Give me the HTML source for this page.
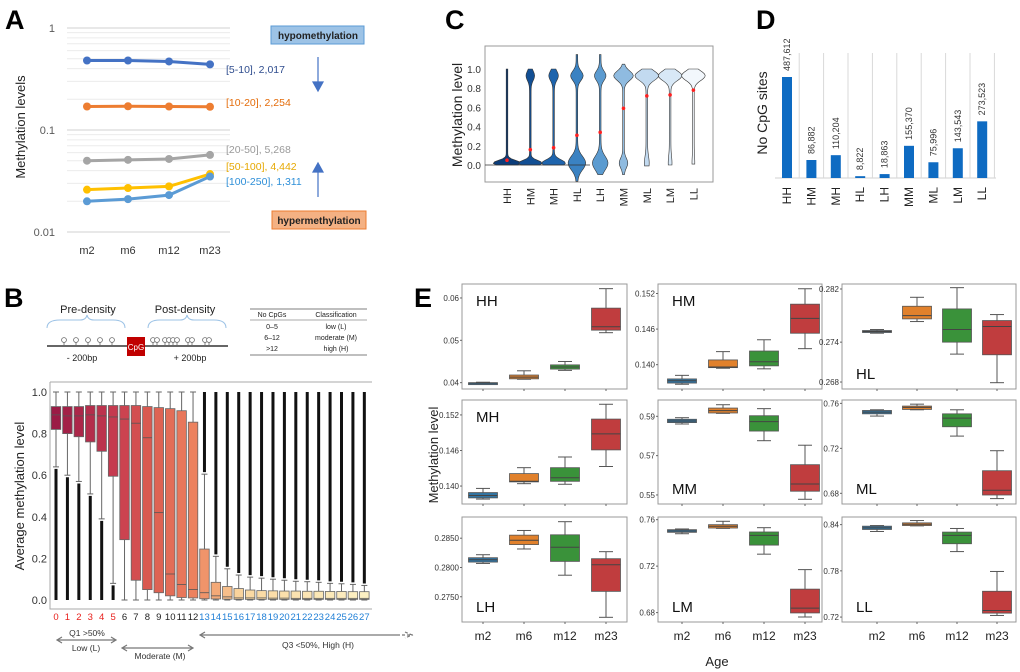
<!DOCTYPE html>
<html><head><meta charset="utf-8">
<style>
html,body{margin:0;padding:0;background:#fff;}
svg{display:block;font-family:"Liberation Sans",Arial,sans-serif;}
</style></head>
<body>
<svg id="fig" width="1020" height="672" viewBox="0 0 1020 672" xmlns="http://www.w3.org/2000/svg">
<!-- Panel letters -->
<text x="5" y="29" font-size="27" font-weight="bold">A</text>
<text x="445" y="29" font-size="27" font-weight="bold">C</text>
<text x="756" y="29" font-size="27" font-weight="bold">D</text>
<text x="4" y="307" font-size="27" font-weight="bold">B</text>
<text x="414" y="307" font-size="27" font-weight="bold">E</text>

<g id="panelA"></g>
<g id="panelC"></g>
<g id="panelD"></g>
<g id="panelB"></g>
<g id="panelE"></g>

<!-- B diagram -->
<g>
  <text x="88" y="313" font-size="11" text-anchor="middle" fill="#222">Pre-density</text>
  <text x="185" y="313" font-size="11" text-anchor="middle" fill="#222">Post-density</text>
  <path d="M47,328 Q47,320 60,320 L80,320 Q86,320 87,315 Q88,320 94,320 L113,320 Q125,320 125,328" fill="none" stroke="#9dc3e6" stroke-width="1"/>
  <path d="M148,328 Q148,320 160,320 L180,320 Q186,320 187,315 Q188,320 194,320 L214,320 Q226,320 226,328" fill="none" stroke="#9dc3e6" stroke-width="1"/>
  <line x1="47" y1="346" x2="228" y2="346" stroke="#333" stroke-width="1.5"/>
  <g id="lolli" stroke="#666" fill="#fff" stroke-width="0.8"></g>
  <rect x="127" y="337" width="18" height="19" fill="#c00000"/>
  <text x="136" y="350" font-size="8" fill="#fff" text-anchor="middle">CpG</text>
  <text x="82" y="361" font-size="9" text-anchor="middle" fill="#222">- 200bp</text>
  <text x="190" y="361" font-size="9" text-anchor="middle" fill="#222">+ 200bp</text>
  <g font-size="7" fill="#222" text-anchor="middle">
    <line x1="250" y1="309" x2="367" y2="309" stroke="#555" stroke-width="0.8"/>
    <line x1="250" y1="320" x2="367" y2="320" stroke="#555" stroke-width="0.6"/>
    <line x1="250" y1="355" x2="367" y2="355" stroke="#555" stroke-width="0.8"/>
    <text x="272" y="317">No CpGs</text><text x="336" y="317">Classification</text>
    <text x="272" y="329">0–5</text><text x="336" y="329">low (L)</text>
    <text x="272" y="340">6–12</text><text x="336" y="340">moderate (M)</text>
    <text x="272" y="351">&gt;12</text><text x="336" y="351">high (H)</text>
  </g>
</g>
</svg>
<script>
// ===== Panel A data =====
const aCategories = ["m2","m6","m12","m23"];
const aSeriesNames = ["[5-10], 2,017","[10-20], 2,254","[20-50], 5,268","[50-100], 4,442","[100-250], 1,311"];
const aSeries5to10 = [0.48,0.48,0.47,0.44];
const aSeries10to20 = [0.17,0.171,0.17,0.169];
const aSeries20to50 = [0.050,0.051,0.052,0.057];
const aSeries50to100 = [0.026,0.027,0.028,0.037];
const aSeries100to250 = [0.020,0.021,0.023,0.035];
const aTicks = [1,0.1,0.01];
const aTickLabels = ["1","0.1","0.01"];

// ===== Panel C data =====
const cCategories = ["HH","HM","MH","HL","LH","MM","ML","LM","LL"];
const cMeans = [0.05,0.16,0.18,0.31,0.34,0.59,0.72,0.73,0.78];
const cTicks = [0,0.2,0.4,0.6,0.8,1.0];

// ===== Panel D data =====
const dCategories = ["HH","HM","MH","HL","LH","MM","ML","LM","LL"];
const dValues = [487612,86882,110204,8822,18863,155370,75996,143543,273523];
const dLabels = ["487,612","86,882","110,204","8,822","18,863","155,370","75,996","143,543","273,523"];

// ===== Panel B data =====
const bCategories = ["0","1","2","3","4","5","6","7","8","9","10","11","12","13","14","15","16","17","18","19","20","21","22","23","24","25","26","27"];
const bQ1 =  [0.82,0.80,0.785,0.76,0.715,0.595,0.29,0.095,0.05,0.035,0.02,0.012,0.01,0.006,0.005,0.004,0.003,0.003,0.003,0.003,0.003,0.003,0.003,0.003,0.003,0.003,0.003,0.003];
const bMed = [0.89,0.885,0.885,0.89,0.885,0.88,0.87,0.85,0.78,0.42,0.125,0.075,0.05,0.035,0.02,0.015,0.01,0.01,0.01,0.009,0.009,0.008,0.008,0.008,0.008,0.008,0.008,0.008];
const bQ3 =  [0.93,0.93,0.93,0.935,0.935,0.935,0.935,0.935,0.93,0.925,0.92,0.91,0.855,0.245,0.085,0.065,0.055,0.048,0.045,0.044,0.043,0.043,0.042,0.042,0.041,0.041,0.040,0.040];
const bWhiskLo = [0.64,0.60,0.57,0.51,0.39,0.08,0,0,0,0,0,0,0,0,0,0,0,0,0,0,0,0,0,0,0,0,0,0];
const bWhiskHi = [1,1,1,1,1,1,1,1,1,1,1,1,1,0.605,0.21,0.15,0.12,0.11,0.105,0.10,0.095,0.09,0.088,0.085,0.08,0.078,0.075,0.07];
const bTicks = [0,0.2,0.4,0.6,0.8,1.0];

// ===== Panel E data =====
const eTitles = ["HH","HM","HL","MH","MM","ML","LH","LM","LL"];
const eAges = ["m2","m6","m12","m23"];
const eDomains = [[0.0385,0.0633],[0.1359,0.1536],[0.26695,0.28275],[0.13697,0.15452],[0.5454,0.5983],[0.6705,0.763],[0.27069,0.28862],[0.6719,0.7623],[0.7136,0.8499]];
const eTickVals = [[0.04,0.05,0.06],[0.140,0.146,0.152],[0.268,0.274,0.282],[0.140,0.146,0.152],[0.55,0.57,0.59],[0.68,0.72,0.76],[0.275,0.28,0.285],[0.68,0.72,0.76],[0.72,0.78,0.84]];
const eTickLabels = [["0.04","0.05","0.06"],["0.140","0.146","0.152"],["0.268","0.274","0.282"],["0.140","0.146","0.152"],["0.55","0.57","0.59"],["0.68","0.72","0.76"],["0.2750","0.2800","0.2850"],["0.68","0.72","0.76"],["0.72","0.78","0.84"]];
// each box: [whisker low, q1, median, q3, whisker high]
const eHH = [[0.0398,0.0399,0.0399,0.0400,0.0401],[0.0408,0.0409,0.0413,0.0418,0.0428],[0.0429,0.0432,0.0437,0.0442,0.0450],[0.0518,0.0524,0.0532,0.0576,0.0622]];
const eHM = [[0.1367,0.1369,0.1373,0.1376,0.1382],[0.1394,0.1395,0.1396,0.1408,0.1422],[0.1393,0.1398,0.1405,0.1423,0.1442],[0.1427,0.1453,0.1478,0.1502,0.1528]];
const eHL = [[0.27535,0.27545,0.2756,0.27575,0.2759],[0.2771,0.2775,0.278,0.2794,0.28075],[0.2722,0.274,0.2759,0.279,0.2822],[0.2679,0.2721,0.27635,0.27725,0.27815]];
const eMH = [[0.1378,0.1380,0.1384,0.1389,0.1396],[0.1404,0.1407,0.1408,0.1421,0.1431],[0.1403,0.1408,0.1414,0.1431,0.1449],[0.1433,0.1461,0.1488,0.1513,0.1538]];
const eMM = [[0.5861,0.5868,0.5876,0.5885,0.5893],[0.5915,0.5917,0.5929,0.5942,0.5959],[0.5776,0.5825,0.5873,0.5903,0.5939],[0.5478,0.5519,0.5556,0.5654,0.5753]];
const eML = [[0.7487,0.7507,0.7522,0.7537,0.7543],[0.7543,0.7546,0.7564,0.7576,0.7593],[0.7309,0.7392,0.7469,0.7507,0.7543],[0.6753,0.6785,0.6827,0.7001,0.7179]];
const eLH = [[0.28069,0.28092,0.28132,0.28167,0.28218],[0.28316,0.28391,0.28466,0.28552,0.28632],[0.27868,0.28104,0.28345,0.28558,0.28782],[0.27149,0.27592,0.28046,0.2815,0.2827]];
const eLM = [[0.7479,0.7491,0.7502,0.7514,0.7520],[0.7525,0.7528,0.7543,0.7557,0.7586],[0.7303,0.7381,0.7465,0.7494,0.7531],[0.6762,0.6797,0.6838,0.7002,0.717]];
const eLL = [[0.8311,0.8337,0.8358,0.838,0.8388],[0.8384,0.8388,0.8405,0.8423,0.8453],[0.805,0.8152,0.826,0.8303,0.835],[0.7221,0.7251,0.7286,0.7535,0.7792]];

const NS="http://www.w3.org/2000/svg";
function mk(parent,tag,attrs,text){const e=document.createElementNS(NS,tag);for(const k in attrs)e.setAttribute(k,attrs[k]);if(text!==undefined)e.textContent=text;parent.appendChild(e);return e;}

// ===== Panel A =====
(function(){
  const g=document.getElementById('panelA');
  const yA=v=>28+(-Math.log10(v))*102;
  const xA=i=>87+i*41;
  // minor grid
  [1,0.1].forEach(dec=>{for(let m=2;m<=9;m++){const v=dec/10*m;const l=mk(g,'line',{x1:67,x2:230,y1:yA(v),y2:yA(v),stroke:'#ececec','stroke-width':1});
    
    }});
  aTicks.forEach((t,i)=>{const l=mk(g,'line',{x1:67,x2:230,y1:yA(t),y2:yA(t),stroke:'#d9d9d9','stroke-width':1.2});
    
    
    const tx=mk(g,'text',{x:55,y:yA(t)+4,'font-size':11,'text-anchor':'end',fill:'#595959'},aTickLabels[i]);
    
    });
  aCategories.forEach((c,i)=>{const tx=mk(g,'text',{x:xA(i),y:254,'font-size':11,'text-anchor':'middle',fill:'#333'},c);
    
    });
  const yt=mk(g,'text',{x:0,y:0,'font-size':13,'text-anchor':'middle',fill:'#222',transform:'translate(25,127) rotate(-90)'},'Methylation levels');
  
  
  const series=[aSeries5to10,aSeries10to20,aSeries20to50,aSeries50to100,aSeries100to250];
  const cols=['#4472c4','#ed7d31','#a5a5a5','#ffc000','#5b9bd5'];
  const labCols=['#2f4d8e','#e46c0a','#9a9a9a','#e6a800','#2e8fd8'];
  const labY=[73,106,153,170,185];
  series.forEach((s,k)=>{
    const p=mk(g,'polyline',{points:s.map((v,i)=>xA(i)+','+yA(v)).join(' '),fill:'none',stroke:cols[k],'stroke-width':3});
    
    
    s.forEach((v,i)=>{const c=mk(g,'circle',{cx:xA(i),cy:yA(v),r:4,fill:cols[k]});
      
      });
    const t=mk(g,'text',{x:226,y:labY[k],'font-size':10.5,fill:labCols[k]},aSeriesNames[k]);
    
    
  });
  const hb=mk(g,'rect',{x:271,y:26,width:93,height:18,fill:'#9dc3e6',stroke:'#5b9bd5'});
  
  
  const ht=mk(g,'text',{x:318,y:39,'font-size':10,'font-weight':'bold','text-anchor':'middle',fill:'#222'},'hypomethylation');
  
  
  const rb=mk(g,'rect',{x:272,y:211,width:94,height:18,fill:'#f4b183',stroke:'#ed7d31'});
  
  
  const rt=mk(g,'text',{x:319,y:224,'font-size':10,'font-weight':'bold','text-anchor':'middle',fill:'#222'},'hypermethylation');
  
  
  const a1=mk(g,'path',{d:'M318,57 L318,82 M313,82 L323,82 L318,91 Z',stroke:'#4472c4','stroke-width':1.2,fill:'#4472c4'});
  
  
  const a2=mk(g,'path',{d:'M318,197 L318,172 M313,172 L323,172 L318,163 Z',stroke:'#4472c4','stroke-width':1.2,fill:'#4472c4'});
  
  
})();

// ===== Panel C =====
(function(){
  const g=document.getElementById('panelC');
  const yC=v=>165-v*96;
  const xC=i=>507+i*23.3;
  const fr=mk(g,'rect',{x:485,y:46,width:228,height:136,fill:'none',stroke:'#999'});
  
  
  cTicks.forEach(t=>{const tx=mk(g,'text',{x:481,y:yC(t)+4,'font-size':10,'text-anchor':'end',fill:'#333'},t.toFixed(1));
    
    });
  const yt=mk(g,'text',{x:0,y:0,'font-size':14,'text-anchor':'middle',fill:'#222',transform:'translate(462,115) rotate(-90)'},'Methylation level');
  
  
  const fills=['#0b3d7a','#124f94','#1e64ad','#3a82c2','#5b9bd0','#8fbbe0','#c2daf0','#d8e8f6','#f2f7fc'];
  const low=[13,11,11,8,7,3.5,1.6,1.1,0.6], high=[0,3.5,4,5.5,5,9,11,11,11];
  const sLow=[0.04,0.04,0.05,0.1,0.1,0.07,0.1,0.1,0.1], vmin=[0,0,0,-0.17,-0.1,-0.1,-0.01,0,0.01], vmax=[1,1,1,1.15,1.15,1.05,1.0,1.0,1.0];
  cCategories.forEach((c,i)=>{
    const w=v=>low[i]*Math.exp(-Math.pow((v-0.02)/sLow[i],2))+high[i]*Math.exp(-Math.pow((v-0.93)/0.07,2))+0.8;
    let L=[],R=[];
    for(let k=0;k<=60;k++){const v=vmin[i]+(vmax[i]-vmin[i])*k/60;const ww=w(v);R.push((xC(i)+ww)+','+yC(v));L.unshift((xC(i)-ww)+','+yC(v));}
    const p=mk(g,'polygon',{points:R.concat(L).join(' '),fill:fills[i],stroke:'#333','stroke-width':0.6});
    
    
    const m=mk(g,'circle',{cx:xC(i),cy:yC(cMeans[i]),r:1.8,fill:'#ff2020'});
    
    
    const t=mk(g,'text',{x:0,y:0,'font-size':11,'text-anchor':'end',fill:'#222',transform:'translate('+(xC(i)+4)+',188) rotate(-90)'},c);
    
    
  });
  // HH-MH flat base lines
  const bl=mk(g,'line',{x1:485,x2:590,y1:yC(0),y2:yC(0),stroke:'#333','stroke-width':0.8});
  
  
})();

// ===== Panel D =====
(function(){
  const g=document.getElementById('panelD');
  const xD=i=>787+i*24.4;
  const yD=v=>178-v*(101/487612);
  for(let i=0;i<9;i++){const l=mk(g,'line',{x1:xD(i)+12.2,x2:xD(i)+12.2,y1:53,y2:178,stroke:'#d9d9d9'});
    
    }
  const ax=mk(g,'line',{x1:775,x2:996,y1:178,y2:178,stroke:'#d9d9d9','stroke-width':1.2});
  
  
  const yt=mk(g,'text',{x:0,y:0,'font-size':14,'text-anchor':'middle',fill:'#222',transform:'translate(767,113) rotate(-90)'},'No CpG sites');
  
  
  dValues.forEach((v,i)=>{
    const r=mk(g,'rect',{x:xD(i)-5,y:yD(v),width:10,height:178-yD(v),fill:'#0e6bc2'});
    
    
    const t=mk(g,'text',{x:0,y:0,'font-size':9,fill:'#333',transform:'translate('+(xD(i)+3)+','+(yD(v)-6)+') rotate(-90)'},dLabels[i]);
    
    
    const c=mk(g,'text',{x:0,y:0,'font-size':12,'text-anchor':'end',fill:'#222',transform:'translate('+(xD(i)+4)+',187) rotate(-90)'},dCategories[i]);
    
    
  });
})();

// ===== Panel B =====
(function(){
  const g=document.getElementById('panelB');
  const yB=v=>600-v*208;
  const xB=i=>56+i*11.42;
  const fr=mk(g,'path',{d:'M50,382 L50,609 L372,609 M50,382 L372,382',fill:'none',stroke:'#aaa'});
  
  
  bTicks.forEach(t=>{const tx=mk(g,'text',{x:47,y:yB(t)+4,'font-size':11,'text-anchor':'end',fill:'#333'},t.toFixed(1));
    
    });
  const yt=mk(g,'text',{x:0,y:0,'font-size':13,'text-anchor':'middle',fill:'#222',transform:'translate(24,496) rotate(-90)'},'Average methylation level');
  
  
  const stops=[[0,[155,27,69]],[0.2,[200,60,80]],[0.3,[218,90,80]],[0.45,[237,130,95]],[0.52,[244,170,120]],[0.6,[250,215,160]],[1,[252,240,195]]];
  function col(f){for(let k=1;k<stops.length;k++){if(f<=stops[k][0]){const a=stops[k-1],b=stops[k];const u=(f-a[0])/(b[0]-a[0]);return 'rgb('+a[1].map((c,j)=>Math.round(c+(b[1][j]-c)*u)).join(',')+')';}}return 'rgb(252,240,195)';}
  bCategories.forEach((c,i)=>{
    const x=xB(i),bw=9.5;
    const wl=mk(g,'line',{x1:x,x2:x,y1:yB(bWhiskHi[i]),y2:yB(bWhiskLo[i]),stroke:'#666','stroke-width':1});
    
    
    [bWhiskHi[i],bWhiskLo[i]].forEach(v=>{const cp=mk(g,'line',{x1:x-3,x2:x+3,y1:yB(v),y2:yB(v),stroke:'#666'});
      
      });
    if(bWhiskLo[i]>0){const o=mk(g,'line',{x1:x,x2:x,y1:yB(bWhiskLo[i])+2,y2:yB(0),stroke:'#111','stroke-width':3});
      
      }
    if(bWhiskHi[i]<1){const o=mk(g,'line',{x1:x,x2:x,y1:yB(bWhiskHi[i])-2,y2:yB(1),stroke:'#111','stroke-width':3});
      
      }
    const r=mk(g,'rect',{x:x-bw/2,y:yB(bQ3[i]),width:bw,height:Math.max(1,yB(bQ1[i])-yB(bQ3[i])),fill:col(i/27),stroke:'#666','stroke-width':0.8});
    
    
    const md=mk(g,'line',{x1:x-bw/2,x2:x+bw/2,y1:yB(bMed[i]),y2:yB(bMed[i]),stroke:'#555','stroke-width':0.8});
    
    
    const t=mk(g,'text',{x:x,y:620,'font-size':9.5,'text-anchor':'middle',fill:i<=5?'#e8201c':(i<=12?'#222':'#1f7fd6')},c);
    
    
  });
  const ann=[['Q1 >50%',87,636],['Low (L)',86,651],['Moderate (M)',160,659],['Q3 <50%, High (H)',318,648]];
  ann.forEach(a=>{const t=mk(g,'text',{x:a[1],y:a[2],'font-size':8.5,'text-anchor':'middle',fill:'#333'},a[0]);
    
    });
  const arrows=[[57,116,640],[122,193,648],[200,400,635]];
  arrows.forEach(a=>{const p=mk(g,'path',{d:'M'+a[0]+','+a[2]+' L'+a[1]+','+a[2]+' M'+(a[0]+5)+','+(a[2]-3)+' L'+a[0]+','+a[2]+' L'+(a[0]+5)+','+(a[2]+3)+(a[1]<300?' M'+(a[1]-5)+','+(a[2]-3)+' L'+a[1]+','+a[2]+' L'+(a[1]-5)+','+(a[2]+3):''),fill:'none',stroke:'#777','stroke-width':1.2});
    
    });
  const d=mk(g,'path',{d:'M402,635 L410,635 M413,635 L412,635 M405,632 L412,635 L405,638',fill:'none',stroke:'#777','stroke-width':1.2,'stroke-dasharray':'3,2'});
  
  
  // lollipops
  const lg=document.getElementById('lolli');
  [64,76,88,100,112,153,157,165,169,173,177,188,192,205,209].forEach(x=>{mk(lg,'line',{x1:x,x2:x,y1:342,y2:346});
    const c=mk(lg,'circle',{cx:x,cy:340,r:2.4});
    
    });
})();

// ===== Panel E =====
(function(){
  const g=document.getElementById('panelE');
  const cols=[[462,627,483,41],[658,822,682,41],[842,1016,877,40]];
  const rows=[[284,389],[400,504],[517,622]];
  const fills=['#3274a1','#e1812c','#3a923a','#c03d3e'];
  const data=[eHH,eHM,eHL,eMH,eMM,eML,eLH,eLM,eLL];
  const topLabel=[true,true,false,true,false,false,false,false,false];
  data.forEach((boxes,p)=>{
    const c=cols[p%3],r=rows[Math.floor(p/3)],dom=eTickVals[p]&&eDomains[p];
    const yE=v=>r[1]-(v-dom[0])/(dom[1]-dom[0])*(r[1]-r[0]);
    const xE=i=>c[2]+i*c[3];
    const fr=mk(g,'rect',{x:c[0],y:r[0],width:c[1]-c[0],height:r[1]-r[0],fill:'none',stroke:'#999','stroke-width':1});
    
    
    eTickVals[p].forEach((t,k)=>{const tx=mk(g,'text',{x:c[0]-3,y:yE(t)+3,'font-size':8,'text-anchor':'end',fill:'#333'},eTickLabels[p][k]);
      
      
      const tk=mk(g,'line',{x1:c[0]-2,x2:c[0],y1:yE(t),y2:yE(t),stroke:'#666'});
      
      });
    const tl=mk(g,'text',{x:c[0]+14,y:topLabel[p]?r[0]+22:r[1]-10,'font-size':15,fill:'#111'},eTitles[p]);
    
    
    boxes.forEach((b,i)=>{
      const x=xE(i),bw=29;
      const tk=mk(g,'line',{x1:x,x2:x,y1:r[1],y2:r[1]+2,stroke:'#666'});
      
      
      const w=mk(g,'line',{x1:x,x2:x,y1:yE(b[4]),y2:yE(b[0]),stroke:'#555','stroke-width':1});
      
      
      [b[0],b[4]].forEach(v=>{const cp=mk(g,'line',{x1:x-7,x2:x+7,y1:yE(v),y2:yE(v),stroke:'#555'});
        
        });
      const rc=mk(g,'rect',{x:x-bw/2,y:yE(b[3]),width:bw,height:Math.max(2,yE(b[1])-yE(b[3])),fill:fills[i],stroke:'#555','stroke-width':0.8});
      
      
      const md=mk(g,'line',{x1:x-bw/2,x2:x+bw/2,y1:yE(b[2]),y2:yE(b[2]),stroke:'#444','stroke-width':1});
      
      
      if(p>=6){const t=mk(g,'text',{x:x,y:640,'font-size':12,'text-anchor':'middle',fill:'#222'},eAges[i]);
        
        }
    });
  });
  const at=mk(g,'text',{x:717,y:666,'font-size':13,'text-anchor':'middle',fill:'#222'},'Age');
  
  
  const yt=mk(g,'text',{x:0,y:0,'font-size':13,'text-anchor':'middle',fill:'#222',transform:'translate(438,455) rotate(-90)'},'Methylation level');
  
  
})();
</script>
</body></html>
